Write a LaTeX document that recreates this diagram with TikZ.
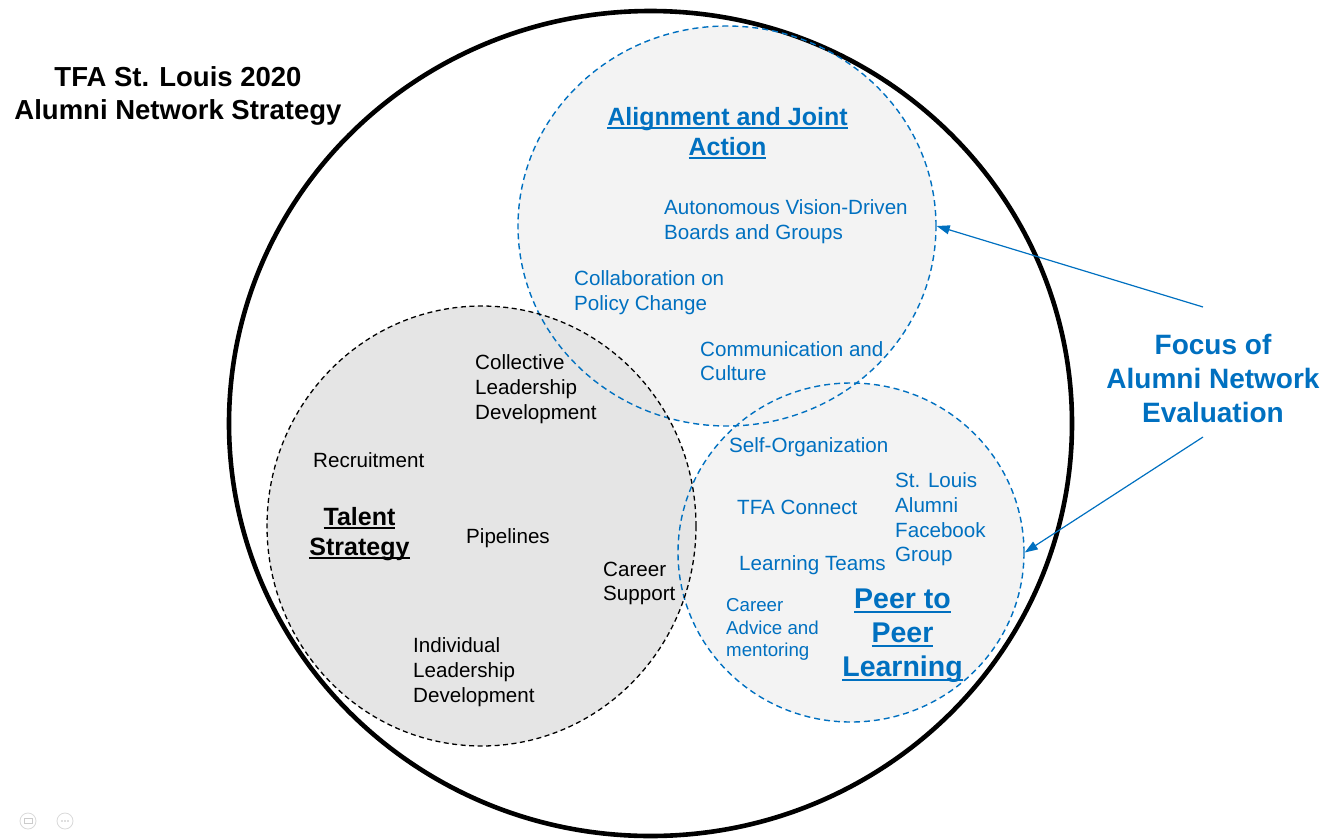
\documentclass[tikz,border=0pt]{standalone}
\usepackage{fontspec}
\setmainfont{Liberation Sans}
\usetikzlibrary{arrows.meta,shapes.geometric}
\definecolor{blu}{HTML}{0070C0}
\definecolor{lite}{HTML}{F3F3F3}
\definecolor{mid}{HTML}{E5E5E5}
% underline at a fixed depth below the baseline
\newcommand\ulx[1]{{\setbox0\hbox{#1}\rlap{\vrule height -0.07em depth 0.145em width \wd0}\box0}}
\begin{document}
\begin{tikzpicture}[x=1pt,y=-1pt,
  ring/.style={ellipse,inner sep=0pt,draw},
  bdash/.style={ring,draw=blu,line width=1.4pt,dash pattern=on 6pt off 4pt},
  kdash/.style={ring,draw=black,line width=1.3pt,dash pattern=on 5pt off 3.5pt},
  txt/.style={inner sep=0pt,anchor=west,align=left,font=\fontsize{20.6}{24.7}\selectfont},
  btxt/.style={txt,text=blu},
  head/.style={inner sep=0pt,align=center,font=\bfseries\fontsize{25}{30}\selectfont},
  pointer/.style={draw=blu,line width=1.2pt,-{Triangle[length=13pt,width=9pt]}}]
\useasboundingbox (0,0) rectangle (1336,839);

% region fills, layered
\fill[lite] (727,226) ellipse [x radius=209pt,y radius=200pt];
\fill[lite] (851,552.5) ellipse [x radius=173pt,y radius=169.5pt];
\fill[mid] (481.5,526) ellipse [x radius=214.5pt,y radius=220pt];

% outlines
\node[ring,line width=4.6pt,minimum width=843pt,minimum height=825pt] (outer) at (650.5,423.5) {};
\node[bdash,minimum width=418pt,minimum height=400pt] (align) at (727,226) {};
\node[bdash,minimum width=346pt,minimum height=339pt] (peer) at (851,552.5) {};
\node[kdash,minimum width=429pt,minimum height=440pt] (talent) at (481.5,526) {};

% title
\node[inner sep=0pt,align=center,font=\bfseries\fontsize{27.5}{33}\selectfont] (title) at (178,95.5)
  {TFA St. Louis 2020\\Alumni Network Strategy};

% alignment and joint action
\node[head,text=blu] (alignhead) at (727.5,133) {\ulx{Alignment and Joint}\\\ulx{Action}};
\node[btxt] (auto) at (664,221.5) {Autonomous Vision-Driven\\Boards and Groups};
\node[btxt] (policy) at (574,292.5) {Collaboration on\\Policy Change};
\node[btxt] (comm) at (700,361) {Communication and\\Culture};

% peer to peer learning
\node[btxt] (selforg) at (729,447) {Self-Organization};
\node[btxt] (fb) at (895,519.5) {St. Louis\\Alumni\\Facebook\\Group};
\node[btxt] (connect) at (737,507.5) {TFA Connect};
\node[btxt] (teams) at (739,565) {Learning Teams};
\node[btxt,font=\fontsize{18.7}{22.5}\selectfont] (advice) at (726,629.5) {Career\\Advice and\\mentoring};
\node[head,text=blu,font=\bfseries\fontsize{28.5}{34}\selectfont] (peerhead) at (902.5,636)
  {\ulx{Peer to}\\\ulx{Peer}\\\ulx{Learning}};

% talent strategy
\node[txt] (collective) at (475,389) {Collective\\Leadership\\Development};
\node[txt] (recruit) at (313,460) {Recruitment};
\node[head] (talenthead) at (359.5,534) {\ulx{Talent}\\\ulx{Strategy}};
\node[txt] (pipe) at (466,538) {Pipelines};
\node[txt] (support) at (603,583.5) {Career\\Support};
\node[txt] (indiv) at (413,672) {Individual\\Leadership\\Development};

% evaluation focus
\node[inner sep=0pt,align=center,text=blu,font=\bfseries\fontsize{28}{34}\selectfont] (focus) at (1213,378.5)
  {Focus of\\Alumni Network\\Evaluation};
\coordinate (fa) at (1203,307);
\coordinate (fb2) at (1203,437);
\draw[pointer] (fa) -- (align.east);
\draw[pointer] (fb2) -- (peer.east);

% small viewer controls
\draw[black!15,line width=0.8pt] (28,821) circle (8pt);
\draw[black!20,line width=0.6pt] (24,818.5) rectangle (32,823.5);
\draw[black!15,line width=0.8pt] (65,821) circle (8pt);
\foreach \dx in {-3,0,3} \fill[black!25] (65+\dx,821) circle (0.8pt);
\end{tikzpicture}
\end{document}
